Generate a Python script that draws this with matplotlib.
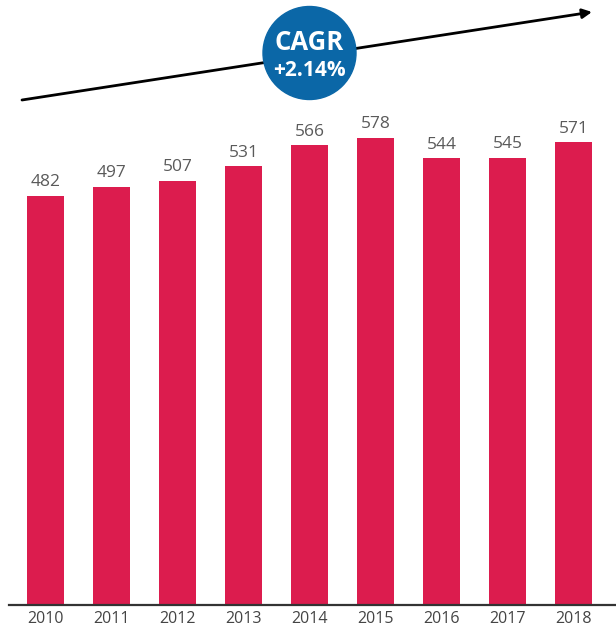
import matplotlib.pyplot as plt
from matplotlib.patches import Circle

# 数据
years = ['2010', '2011', '2012', '2013', '2014', '2015', '2016', '2017', '2018']
values = [482, 497, 507, 531, 566, 578, 544, 545, 571]
cagr_text = ['CAGR', '+2.14%']

plt.rcParams['font.family'] = ['Open Sans', 'DejaVu Sans']

W, H = 616, 628
fig = plt.figure(figsize=(W / 100, H / 100), dpi=100)

# 主图：纵轴不从0开始
base = -200
ax = fig.add_axes([0, 23 / H, 1, 1 - 23 / H])
x = list(range(len(years)))
bars = ax.bar(x, [v - base for v in values], bottom=base, width=0.56, color='#DC1C4E')
ax.set_xlim(-0.69, 8.64)
ax.set_ylim(base, 808)

for b, v in zip(bars, values):
    ax.annotate(str(v), (b.get_x() + b.get_width() / 2, v), xytext=(0, 4),
                textcoords='offset points', ha='center', va='bottom',
                fontsize=12.5, color='#5a5a5a')

for s in ['top', 'right', 'left']:
    ax.spines[s].set_visible(False)
ax.spines['bottom'].set_bounds(-0.55, 8.64)
ax.spines['bottom'].set_color('#333333')
ax.spines['bottom'].set_linewidth(1.6)
ax.set_yticks([])
ax.set_xticks(x)
ax.set_xticklabels(years, fontsize=11.5, color='#444444')
ax.tick_params(axis='x', length=0, pad=4)

# 上方箭头和CAGR圆
ov = fig.add_axes([0, 0, 1, 1])
ov.set_xlim(0, W)
ov.set_ylim(H, 0)
ov.axis('off')
ov.annotate('', xy=(592, 12), xytext=(22, 100),
            arrowprops=dict(arrowstyle='-|>', color='black', lw=2,
                            mutation_scale=14, shrinkA=0, shrinkB=0))
ov.add_patch(Circle((309.5, 53), 46.5, color='#0B67A7', zorder=3))
ov.text(309.5, 42, cagr_text[0], ha='center', va='center', color='white',
        fontsize=18.5, fontweight='bold', zorder=4)
ov.text(309.5, 71, cagr_text[1], ha='center', va='center', color='white',
        fontsize=15, fontweight='bold', zorder=4)

fig.savefig('out.png', dpi=100)
